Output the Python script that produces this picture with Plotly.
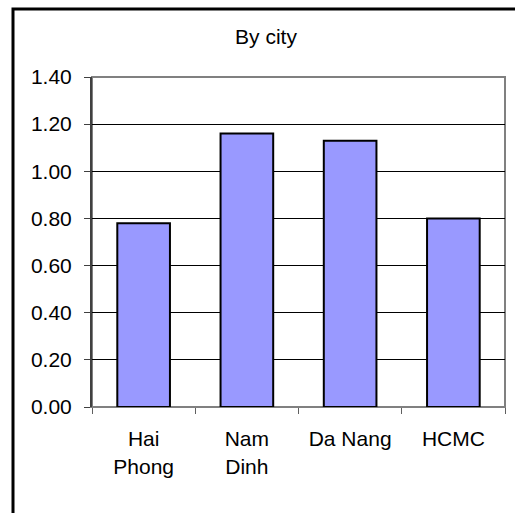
import plotly.graph_objects as go

cities = ["Hai<br>Phong", "Nam<br>Dinh", "Da Nang", "HCMC"]
values = [0.78, 1.16, 1.13, 0.80]
y_ticks = [0.0, 0.2, 0.4, 0.6, 0.8, 1.0, 1.2, 1.4]
y_tick_text = [f"{v:.2f}" for v in y_ticks]

W, H = 515, 513
L, R, T, B = 92, 10, 77, 106
pw, ph = W - L - R, H - T - B

fig = go.Figure(
    go.Bar(
        x=cities,
        y=values,
        marker=dict(color="#9999FF", line=dict(color="black", width=2)),
        hoverinfo="skip",
    )
)

# outer chart frame (runs off the right and bottom edge)
fig.add_shape(
    type="rect", xref="paper", yref="paper",
    x0=(13 - L) / pw, x1=(W + 20 - L) / pw,
    y0=-(H + 20 - T - ph) / ph, y1=1 + (T - 9) / ph,
    line=dict(color="black", width=3), layer="below",
)
# plot area frame
fig.add_shape(
    type="rect", xref="paper", yref="paper",
    x0=0, x1=1, y0=0, y1=1,
    line=dict(color="#808080", width=2), layer="below",
)

fig.update_layout(
    width=W, height=H,
    margin=dict(l=L, r=R, t=T, b=B),
    paper_bgcolor="white", plot_bgcolor="white",
    font=dict(family="Liberation Sans, Arial, sans-serif", size=21, color="black"),
    title=dict(text="By city", x=266 / W, xanchor="center",
               y=1 - 37 / H, yanchor="middle", font=dict(size=21)),
    bargap=0.49,
    showlegend=False,
    xaxis=dict(
        showgrid=False, showline=True, linecolor="#808080", linewidth=1,
        ticks="outside", ticklen=6, tickcolor="#606060",
        tickson="boundaries", fixedrange=True, ticklabelstandoff=13,
    ),
    yaxis=dict(
        range=[0, 1.4], tickvals=y_ticks, ticktext=y_tick_text,
        showgrid=True, gridcolor="black", gridwidth=1,
        showline=True, linecolor="#404040", linewidth=2,
        ticks="outside", ticklen=6, tickcolor="#404040",
        zeroline=False, fixedrange=True, ticklabelstandoff=8,
    ),
)

fig.write_html("out.html")
